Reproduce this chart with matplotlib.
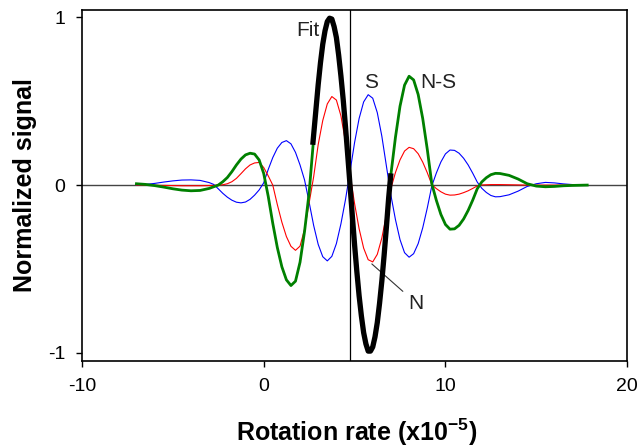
#!/usr/bin/env python3
"""
Normalized signal vs rotation rate: N, S, N-S curves plus the fit.
"""

import matplotlib
matplotlib.use('Agg')  # no display in the sandbox
import matplotlib.pyplot as plt

# rotation rate (x1e-5), shared by the N, S and N-S curves
rate = [-7.0, -6.5, -6.0, -5.5, -5.0, -4.5, -4.0, -3.5, -3.0,
        -2.75, -2.5, -2.25, -2.0, -1.75, -1.5, -1.25, -1.0, -0.75, -0.5, -0.25,
        0.0, 0.25, 0.5, 0.75, 1.0, 1.25, 1.5, 1.75, 2.0, 2.25, 2.5, 2.75,
        3.0, 3.25, 3.5, 3.75, 4.0, 4.25, 4.5, 4.75, 5.0, 5.25, 5.5, 5.75,
        6.0, 6.25, 6.5, 6.75, 7.0, 7.25, 7.5, 7.75, 8.0, 8.25, 8.5, 8.75,
        9.0, 9.25, 9.5, 9.75, 10.0, 10.25, 10.5, 10.75, 11.0, 11.25, 11.5, 11.75,
        12.0, 12.25, 12.5, 12.75, 13.0,
        13.5, 14.0, 14.5, 15.0, 15.5, 16.0, 16.5, 17.0, 17.8]

sig_n = [0.0, 0.0, -0.001, -0.002, -0.003, -0.004, -0.004, -0.004, -0.003,
         -0.002, 0.0, 0.002, 0.008, 0.02, 0.04, 0.068, 0.097, 0.12, 0.132, 0.135,
         0.105, 0.055, 0.0, -0.116, -0.221, -0.307, -0.365, -0.389, -0.364, -0.263, -0.107, 0.05,
         0.242, 0.385, 0.484, 0.528, 0.507, 0.413, 0.258, 0.065, -0.11, -0.26, -0.376, -0.445,
         -0.458, -0.413, -0.316, -0.179, -0.02, 0.075, 0.15, 0.203, 0.225, 0.217, 0.187, 0.137,
         0.074, 0.003, -0.021, -0.04, -0.054, -0.06, -0.059, -0.054, -0.045, -0.034, -0.02, -0.005,
         0.001, 0.002, 0.003, 0.003, 0.003,
         0.002, 0.001, 0.0, 0.0, 0.0, 0.0, 0.0, 0.0, 0.0]

sig_s = [0.0, 0.004, 0.01, 0.018, 0.025, 0.03, 0.031, 0.028, 0.015,
         0.004, -0.022, -0.049, -0.072, -0.09, -0.102, -0.106, -0.101, -0.085, -0.06, -0.029,
         0.013, 0.093, 0.164, 0.22, 0.254, 0.265, 0.246, 0.195, 0.12, 0.03, -0.102, -0.241,
         -0.354, -0.427, -0.452, -0.425, -0.349, -0.231, -0.087, 0.08, 0.253, 0.397, 0.496, 0.539,
         0.518, 0.432, 0.292, 0.115, -0.061, -0.206, -0.325, -0.403, -0.43, -0.409, -0.349, -0.255,
         -0.137, -0.005, 0.072, 0.138, 0.186, 0.209, 0.207, 0.19, 0.16, 0.12, 0.071, 0.018,
         -0.019, -0.044, -0.062, -0.07, -0.069,
         -0.058, -0.036, -0.008, 0.008, 0.016, 0.013, 0.007, 0.003, 0.0]

sig_ns = [0.008, 0.004, -0.003, -0.012, -0.022, -0.03, -0.034, -0.032, -0.02,
          -0.01, 0.0, 0.02, 0.045, 0.08, 0.12, 0.155, 0.18, 0.19, 0.185, 0.15,
          0.07, -0.067, -0.228, -0.372, -0.487, -0.565, -0.599, -0.573, -0.46, -0.275, -0.047, 0.28,
          0.60, 0.84, 0.975, 0.99, 0.88, 0.65, 0.35, 0.0, -0.355, -0.66, -0.88, -0.99,
          -0.965, -0.82, -0.573, -0.253, 0.064, 0.285, 0.47, 0.596, 0.649, 0.627, 0.54, 0.397,
          0.214, 0.008, -0.091, -0.175, -0.235, -0.263, -0.261, -0.24, -0.202, -0.151, -0.09, -0.022,
          0.019, 0.044, 0.062, 0.07, 0.069,
          0.058, 0.036, 0.008, -0.006, -0.01, -0.008, -0.004, -0.002, 0.0]

# fitted central fringe
fit_rate = [2.7, 2.875, 3.0, 3.125, 3.25, 3.375, 3.5, 3.625, 3.75, 3.875,
            4.0, 4.125, 4.25, 4.375, 4.5, 4.625, 4.75, 4.875, 5.0, 5.125,
            5.25, 5.375, 5.5, 5.625, 5.75, 5.875, 6.0, 6.125, 6.25, 6.375,
            6.5, 6.625, 6.75, 6.875, 7.0]
fit_sig = [0.24, 0.45, 0.60, 0.73, 0.84, 0.92, 0.975, 0.995, 0.99, 0.945,
           0.88, 0.775, 0.65, 0.51, 0.35, 0.177, 0.0, -0.18, -0.355, -0.515,
           -0.66, -0.78, -0.88, -0.947, -0.99, -0.99, -0.965, -0.905, -0.82, -0.705,
           -0.573, -0.42, -0.253, -0.078, 0.07]

center_rate = 4.75

x_ticks = [-10, 0, 10, 20]
y_ticks = [-1, 0, 1]


def make_plot():
    plt.rcParams['font.family'] = ['Liberation Sans', 'DejaVu Sans']
    plt.rcParams['axes.unicode_minus'] = False
    plt.rcParams['mathtext.fontset'] = 'custom'
    plt.rcParams['mathtext.rm'] = 'Liberation Sans'
    plt.rcParams['mathtext.bf'] = 'Liberation Sans:bold'

    fig = plt.figure(figsize=(6.4, 4.47), dpi=100)
    ax = fig.add_axes([0.128, 0.192, 0.852, 0.786])

    ax.axhline(0, color='#444444', lw=1.0, zorder=1)
    ax.axvline(center_rate, color='black', lw=0.9, zorder=1)

    ax.plot(rate, sig_s, color='blue', lw=0.8, zorder=2)
    ax.plot(rate, sig_n, color='red', lw=0.8, zorder=3)
    ax.plot(rate, sig_ns, color='green', lw=2.0, zorder=4)
    ax.plot(fit_rate, fit_sig, color='black', lw=3.8, zorder=5,
            solid_capstyle='butt')

    txt = '#222222'
    ax.text(2.43, 0.92, 'Fit', fontsize=15, ha='center', va='center', color=txt)
    ax.text(5.88, 0.61, 'S', fontsize=15, ha='center', va='center', color=txt)
    ax.text(9.61, 0.61, 'N-S', fontsize=15, ha='center', va='center', color=txt)
    ax.annotate('N', xy=(5.95, -0.47), xytext=(8.4, -0.705), fontsize=15,
                ha='center', va='center', color=txt,
                arrowprops=dict(arrowstyle='-', color='#333333', lw=0.8,
                                shrinkA=3, shrinkB=0))

    ax.set_xlim(-10, 20)
    ax.set_ylim(-1.05, 1.045)
    ax.set_xticks(x_ticks)
    ax.set_yticks(y_ticks)
    ax.tick_params(direction='out', length=4, width=1.0, labelsize=14, pad=8)
    for sp in ax.spines.values():
        sp.set_linewidth(1.2)

    ax.set_xlabel(r'Rotation rate (x10$^{\mathbf{-5}}$)', fontsize=18,
                  fontweight='bold')
    ax.set_ylabel('Normalized signal', fontsize=18, fontweight='bold')
    ax.xaxis.set_label_coords(0.503, -0.202)
    ax.xaxis.label.set_verticalalignment('center')
    ax.yaxis.set_label_coords(-0.105, 0.5)
    ax.yaxis.label.set_verticalalignment('center')

    fig.savefig('out.png', dpi=100, facecolor='white')
    plt.close(fig)


def main():
    make_plot()


if __name__ == '__main__':
    main()
